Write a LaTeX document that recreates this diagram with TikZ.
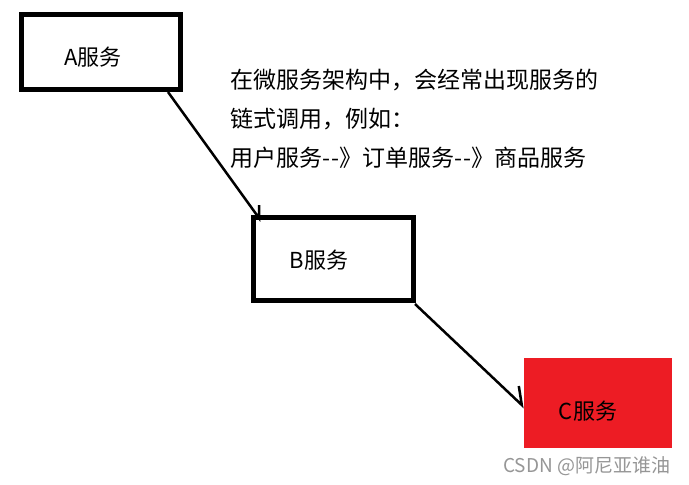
\documentclass[tikz,border=0pt]{standalone}
\usepackage{fontspec}
\setmainfont{Noto Sans CJK SC}
\newfontfamily\cjk{Noto Sans CJK SC}
\definecolor{paintred}{RGB}{237,28,36}
\definecolor{wmgray}{RGB}{150,150,150}
\tikzset{
  px/.style={x=1pt,y=-1pt},
  svcbox/.style={draw=black,line width=5pt,inner sep=0pt,rectangle},
  redbox/.style={fill=paintred,inner sep=0pt,rectangle},
  lbl/.style={font=\cjk\fontsize{22}{26}\selectfont,inner sep=0pt,text=black},
  txt/.style={font=\cjk\fontsize{23}{27}\selectfont,inner sep=0pt,anchor=base west},
  conn/.style={draw=black,line width=2.5pt,line join=miter,line cap=butt},
}
\begin{document}
\begin{tikzpicture}[px]
\useasboundingbox (0,0) rectangle (689,485);
\fill[white] (0,0) rectangle (689,485);
% boxes
\node[svcbox,minimum width=159pt,minimum height=75pt] (A) at (101,52) {};
\node[svcbox,minimum width=160pt,minimum height=83pt] (B) at (333.5,259) {};
\node[redbox,minimum width=148pt,minimum height=90pt] (C) at (598,403) {};
% labels
\node[lbl] (Al) at (93,57) {A服务};
\node[lbl] (Bl) at (319,260) {B服务};
\node[lbl] (Cl) at (588,411) {C服务};
% text
\node[txt] (t1) at (230,88) {在微服务架构中，会经常出现服务的};
\node[txt] (t2) at (230,127) {链式调用，例如：};
\node[txt] (t3) at (230,166) {用户服务-\kern1pt-》订单服务-\kern1pt-》商品服务};
% connectors
\draw[conn] ([xshift=-15pt,yshift=0pt]A.south east) -- ([xshift=8pt,yshift=-3pt]B.north west) -- ++(0,-13);
\draw[conn] ([xshift=-1pt,yshift=-1pt]B.south east) -- ([xshift=-2pt,yshift=-2pt]C.west) -- ++(-3,-19);
% watermark
\node[font=\cjk\fontsize{19}{22}\selectfont,text=wmgray,inner sep=0pt,anchor=base west] (wm) at (503,472) {CSDN @阿尼亚谁油};
\end{tikzpicture}
\end{document}
